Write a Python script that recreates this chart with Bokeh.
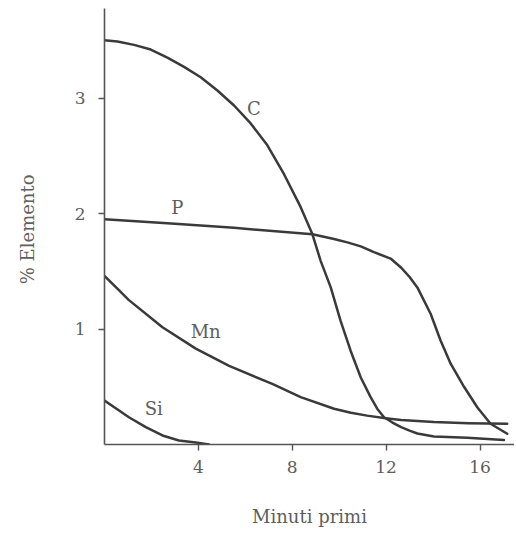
from bokeh.plotting import figure
from bokeh.models import Range1d, FixedTicker, ColumnDataSource
from bokeh.core.properties import value
from bokeh.embed import file_html
from bokeh.resources import INLINE

# time (minutes) and % element
c_x = [0.0, 0.55, 1.26, 1.97, 2.68, 3.39, 4.10, 4.81, 5.52, 6.23, 6.94, 7.65, 8.36, 8.86,
       9.21, 9.64, 10.06, 10.49, 10.92, 11.34, 11.62, 11.91, 12.27, 12.64, 13.0, 13.33,
       14.04, 15.46, 17.02]
c_y = [3.50, 3.49, 3.46, 3.42, 3.35, 3.27, 3.18, 3.065, 2.935, 2.78, 2.59, 2.34, 2.055, 1.82,
       1.59, 1.36, 1.07, 0.81, 0.58, 0.41, 0.31, 0.236, 0.19, 0.15, 0.12, 0.095,
       0.069, 0.058, 0.04]

p_x = [0.0, 2.68, 5.52, 8.86, 9.78, 10.35, 10.92, 11.48, 12.19, 12.62, 13.0, 13.33, 13.9,
       14.32, 14.75, 15.32, 15.89, 16.45, 17.16]
p_y = [1.95, 1.916, 1.876, 1.82, 1.78, 1.75, 1.715, 1.665, 1.61, 1.535, 1.45, 1.36, 1.13,
       0.90, 0.70, 0.50, 0.32, 0.18, 0.093]

mn_x = [0.0, 0.55, 1.04, 2.47, 3.89, 5.31, 7.15, 8.36, 9.78, 10.5, 11.19, 11.98, 12.64,
        14.04, 15.5, 17.16]
mn_y = [1.46, 1.35, 1.25, 1.015, 0.83, 0.68, 0.525, 0.41, 0.31, 0.275, 0.25, 0.228, 0.212,
        0.195, 0.185, 0.18]

si_x = [0.0, 1.04, 1.76, 2.47, 3.17, 3.89, 4.45]
si_y = [0.38, 0.236, 0.15, 0.078, 0.035, 0.017, 0.0]

label_text = ["C", "P", "Mn", "Si"]
label_x = [6.36, 3.10, 4.31, 2.10]
label_y = [2.91, 2.05, 0.98, 0.31]

x_ticks = [4, 8, 12, 16]
y_ticks = [1, 2, 3]

FONT = "DejaVu Serif"
LINE = "#3a3a3a"
TEXT = "#5e5e5e"

p = figure(width=514, height=530, output_backend="svg", toolbar_location=None,
           x_range=Range1d(0, 17.47), y_range=Range1d(0, 3.775),
           min_border_left=104, min_border_right=0, min_border_top=8, min_border_bottom=86)
p.outline_line_color = None
p.grid.visible = False
p.background_fill_color = "white"

for xs, ys in [(c_x, c_y), (p_x, p_y), (mn_x, mn_y), (si_x, si_y)]:
    p.line(xs, ys, line_color=LINE, line_width=2.5, line_join="round", line_cap="round")

src = ColumnDataSource(dict(x=label_x, y=label_y, t=label_text))
p.text(x="x", y="y", text="t", source=src, text_font=value(FONT), text_font_size="18px",
       text_color=TEXT, text_align="center", text_baseline="middle")

for ax in (p.xaxis[0], p.yaxis[0]):
    ax.axis_line_color = "#555555"
    ax.axis_line_width = 1.6
    ax.major_tick_line_color = "#555555"
    ax.major_tick_line_width = 1.4
    ax.major_tick_in = 0
    ax.major_tick_out = 6
    ax.minor_tick_line_color = None
    ax.major_label_text_font = FONT
    ax.major_label_text_font_size = "17px"
    ax.major_label_text_color = TEXT
    ax.axis_label_text_font = FONT
    ax.axis_label_text_font_size = "18px"
    ax.axis_label_text_font_style = "normal"
    ax.axis_label_text_color = TEXT

p.xaxis[0].ticker = FixedTicker(ticks=x_ticks)
p.yaxis[0].ticker = FixedTicker(ticks=y_ticks)
p.xaxis[0].major_label_standoff = 10
p.yaxis[0].major_label_standoff = 13
p.xaxis[0].axis_label = "Minuti primi"
p.yaxis[0].axis_label = "%  Elemento"
p.xaxis[0].axis_label_standoff = 30
p.yaxis[0].axis_label_standoff = 34

open("out.html", "w").write(file_html(p, INLINE))
